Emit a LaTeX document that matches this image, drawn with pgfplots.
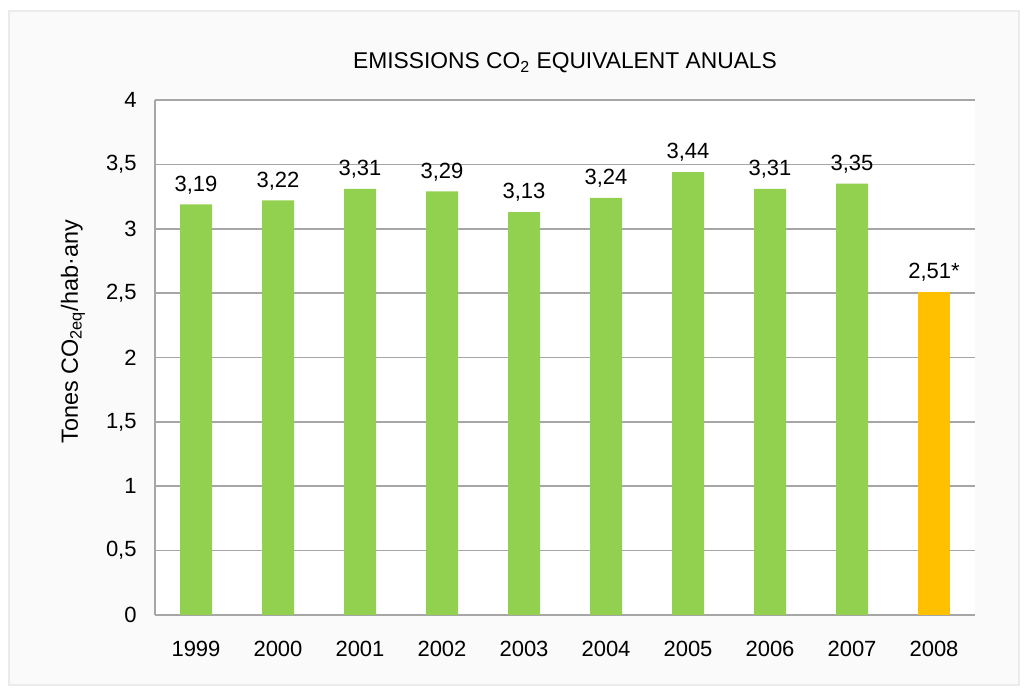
\documentclass[border=0pt]{standalone}
\usepackage{fontspec}
\setmainfont{Liberation Sans}
\usepackage{pgfplots}
\pgfplotsset{compat=1.18}
\definecolor{barg}{HTML}{92D050}
\definecolor{baro}{HTML}{FFC000}
\definecolor{gridc}{HTML}{A6A6A6}
\definecolor{panel}{HTML}{FAFAFA}
\definecolor{panelb}{HTML}{EBEBEB}
\begin{document}
\fontsize{11}{13}\selectfont
\begin{tikzpicture}
\fill[white] (0pt,0pt) rectangle (514.5pt,347.5pt);
\filldraw[fill=panel, draw=panelb, line width=0.6pt] (4.5pt,5pt) rectangle (509.5pt,342pt);
\begin{axis}[
  at={(77.5pt,40pt)}, anchor=south west,
  width=410pt, height=257.5pt, scale only axis,
  ymin=0, ymax=4, xmin=-0.5, xmax=9.5,
  ytick={0,0.5,1,1.5,2,2.5,3,3.5,4},
  xtick={0,1,2,3,4,5,6,7,8,9},
  xticklabels={1999,2000,2001,2002,2003,2004,2005,2006,2007,2008},
  axis background/.style={fill=white},
  axis lines=left,
  axis line style={gridc, line width=0.8pt, -},
  ymajorgrids,
  grid style={gridc, line width=0.8pt},
  major tick length=0pt,
  /pgf/number format/assume math mode=true,
  /pgf/number format/use comma,
  yticklabel style={inner sep=0pt, anchor=east, xshift=-9pt},
  xticklabel style={inner sep=0pt, anchor=north, yshift=-13pt},
  ticklabel style={font=\fontsize{11}{13}\selectfont},
  ylabel={Tones CO\textsubscript{2eq}/hab·any},
  ylabel style={at={(axis description cs:-0.1,0.55)}, anchor=center, font=\fontsize{11.7}{13}\selectfont},
  title={EMISSIONS CO\textsubscript{2} EQUIVALENT ANUALS},
  title style={at={(axis description cs:0.5,1)}, anchor=center, yshift=12.5pt, font=\fontsize{11.4}{13}\selectfont},
  ybar, bar width=16pt, bar shift=0pt,
  clip=false,
  nodes near coords style={inner sep=0pt, anchor=south, yshift=5pt, font=\fontsize{11}{13}\selectfont,
    /pgf/number format/fixed, /pgf/number format/fixed zerofill, /pgf/number format/precision=2},
]
\addplot[fill=barg, draw=none, nodes near coords] coordinates {
  (0,3.19) (1,3.22) (2,3.31) (3,3.29) (4,3.13) (5,3.24) (6,3.44) (7,3.31) (8,3.35)};
\addplot[fill=baro, draw=none, nodes near coords={\pgfmathprintnumber{\pgfplotspointmeta}*}] coordinates {
  (9,2.51)};
\end{axis}
\end{tikzpicture}
\end{document}
